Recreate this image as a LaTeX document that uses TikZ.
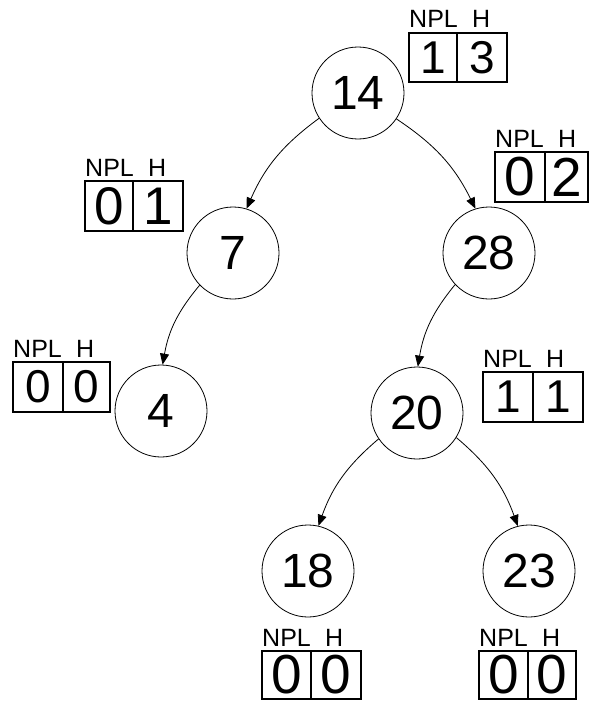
\documentclass[tikz,border=0pt]{standalone}
\usepackage{fontspec}
\setmainfont{Liberation Sans}
\usetikzlibrary{arrows.meta}
\tikzset{
  treenode/.style={circle, draw, line width=0.8pt, minimum size=92pt, inner sep=0pt, font=\fontsize{48}{48}\selectfont},
  boxline/.style={line width=2pt},
  lab/.style={inner sep=0pt, font=\fontsize{25}{25}\selectfont},
  dig/.style={inner sep=0pt},
  edge/.style={line width=0.8pt, -{Triangle[length=11pt,width=9pt]}}
}
\newcommand\NB[9]{%
  \draw[boxline] (#2,#3) rectangle (#5,#6);
  \draw[boxline] (#4,#3) -- (#4,#6);
  \node[lab, anchor=base west] (#1npl) at (#2,#3-5) {NPL};
  \node[lab, anchor=base west] (#1h) at (#2+63,#3-5) {H};
  \node[dig, font=\fontsize{#9}{#9}\selectfont] (#1a) at ({(#2+#4)/2},{(#3+#6)/2}) {#7};
  \node[dig, font=\fontsize{#9}{#9}\selectfont] (#1b) at ({(#4+#5)/2},{(#3+#6)/2}) {#8};
}
\begin{document}
\begin{tikzpicture}[x=1pt,y=-1pt]
\useasboundingbox (0,0) rectangle (589,701);
\node[treenode] (n14) at (358,93) {14};
\node[treenode] (n7) at (233,253) {7};
\node[treenode] (n28) at (489,253) {28};
\node[treenode] (n4) at (161,411) {4};
\node[treenode] (n20) at (417,413) {20};
\node[treenode] (n18) at (308,571) {18};
\node[treenode] (n23) at (529,571) {23};

\draw[edge] (n14.213) to[bend right=15] (n7.73);
\draw[edge] (n14.326) to[bend left=15] (n28.107);
\draw[edge] (n7.224) to[bend right=15] (n4.88);
\draw[edge] (n28.223) to[bend right=15] (n20.89);
\draw[edge] (n20.214) to[bend right=15] (n18.77);
\draw[edge] (n20.328) to[bend left=15] (n23.104);

\NB{b14}{409}{33}{457}{507}{82}{1}{3}{46}
\NB{b7}{85}{181}{133}{183}{231}{0}{1}{53}
\NB{b28}{495}{152}{545}{588}{202}{0}{2}{55}
\NB{b4}{13}{362}{63}{110}{412}{0}{0}{46}
\NB{b20}{483}{372}{533}{583}{422}{1}{1}{46}
\NB{b18}{262}{651}{311}{361}{699}{0}{0}{55}
\NB{b23}{479}{651}{528}{576}{699}{0}{0}{55}
\end{tikzpicture}
\end{document}
